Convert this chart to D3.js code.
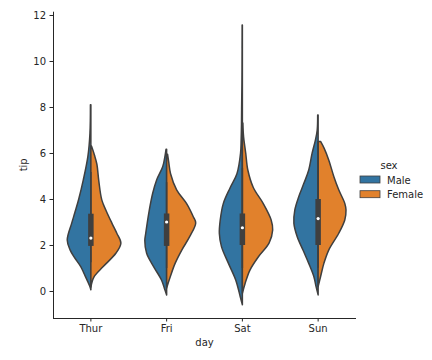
<!DOCTYPE html>
<html><head><meta charset="utf-8">
<script src="https://cdn.jsdelivr.net/npm/d3@7/dist/d3.min.js"></script>
<style>body{margin:0;background:#fff}svg{display:block}text{font-family:"DejaVu Sans",sans-serif;fill:#262626}</style>
</head><body><svg id="c" width="432" height="360"></svg>
<script>
const days = ["Thur","Fri","Sat","Sun"];
const sexes = ["Male","Female"];
const colors = ["#3274a1","#e1812c"];
const yTicks = [0,2,4,6,8,10,12];
// density profiles: [tip, relative half-width (% of max)]
const thurMale = [[0.05,0],[0.19,3],[0.77,23],[1.05,33],[1.49,56],[1.8,69],[2.22,78],[2.96,63],[3.4,53],[4.0,40],[4.83,25],[5.84,10],[6.87,3],[8.1,1.5]];
const thurFemale = [[0.17,0],[0.6,10],[1.05,40],[1.65,83],[2.08,99],[2.5,86],[2.96,69],[3.5,50],[3.96,36],[4.8,26],[5.5,20],[5.9,12],[6.3,2]];
const friMale = [[-0.17,0],[0.1,7],[0.48,17],[1.06,43],[1.64,66],[2.2,72],[2.5,69],[3.38,59],[4.25,46],[4.83,33],[5.4,13],[5.9,5],[6.16,2]];
const friFemale = [[0.13,0],[0.62,12],[1.2,28],[1.78,50],[2.36,76],[2.96,96],[3.23,88],[3.8,66],[4.4,33],[5.1,13],[5.6,7],[5.95,3]];
const satMale = [[-0.6,0],[-0.25,7],[0.48,22],[1.2,46],[1.93,69],[2.5,76],[3.09,73],[3.8,63],[4.5,40],[5.1,18],[6.0,6],[6.6,4],[7.2,3],[7.9,2.5],[9.0,1.5],[10.5,1],[11.56,0.8]];
const satFemale = [[-0.1,0],[0.33,9],[0.91,25],[1.49,53],[2.08,88],[2.65,100],[3.09,95],[3.8,69],[4.5,36],[5.26,18],[6.0,11],[6.7,4],[7.3,1.5]];
const sunMale = [[-0.17,0],[0.2,7],[0.62,14],[1.2,31],[1.78,50],[2.36,69],[2.94,80],[3.52,77],[4.1,64],[4.68,47],[5.26,31],[5.98,20],[6.56,9],[7.0,3],[7.65,1.5]];
const sunFemale = [[0.19,0],[0.62,8],[1.2,19],[1.78,35],[2.51,68],[3.09,88],[3.52,92],[3.81,88],[4.4,68],[4.97,52],[5.7,35],[6.2,20],[6.5,8]];
const profiles = [[thurMale,thurFemale],[friMale,friFemale],[satMale,satFemale],[sunMale,sunFemale]];
// box stats per day: [whiskerLow, q1, median, q3, whiskerHigh]
const boxStats = [[1.25,1.96,2.3,3.36,5.17],[1.0,1.96,3.0,3.37,4.73],[1.0,2.0,2.75,3.37,5.35],[1.01,2.0,3.15,4.0,6.5]];

const svg = d3.select("#c");
const L=53, R=356, T=11.7, B=318;
const x = d3.scaleBand().domain(days).range([L,R]).paddingInner(0).paddingOuter(0);
const y = d3.scaleLinear().domain([-1.174,12.143]).range([B,T]);
const w = d3.scaleLinear().domain([0,100]).range([0, x.step()*0.4]);
const cx = d => x(d)+x.bandwidth()/2;
const edge = "#3f3f3f";

days.forEach((day,i)=>{
  const c = cx(day);
  profiles[i].forEach((prof,j)=>{
    const sgn = j===0?-1:1;
    const area = d3.area().curve(d3.curveCatmullRom.alpha(0.5))
      .y(d=>y(d[0])).x0(c).x1(d=>c+sgn*w(d[1]));
    svg.append("path").attr("d",area(prof)).attr("fill",colors[j])
      .attr("stroke",edge).attr("stroke-width",1.5).attr("stroke-linejoin","round");
  });
  const b = boxStats[i];
  svg.append("line").attr("x1",c).attr("x2",c).attr("y1",y(b[0])).attr("y2",y(b[4]))
    .attr("stroke",edge).attr("stroke-width",1.5);
  svg.append("line").attr("x1",c).attr("x2",c).attr("y1",y(b[1])).attr("y2",y(b[3]))
    .attr("stroke",edge).attr("stroke-width",5.5);
  svg.append("circle").attr("cx",c).attr("cy",y(b[2])).attr("r",1.6).attr("fill","#fff");
});

// axes
const yAxis = d3.axisLeft(y).tickValues(yTicks).tickSize(3.5).tickPadding(3.5);
const gy = svg.append("g").attr("transform",`translate(${L},0)`).call(yAxis);
const xAxis = d3.axisBottom(x).tickSize(3.5).tickPadding(3.5);
const gx = svg.append("g").attr("transform",`translate(0,${B})`).call(xAxis);
[gy,gx].forEach(g=>{
  g.select(".domain").attr("stroke","#262626").attr("stroke-width",1);
  g.selectAll(".tick line").attr("stroke","#262626").attr("stroke-width",1);
  g.selectAll(".tick text").attr("font-size",10).attr("fill","#262626").attr("font-family","DejaVu Sans");
});
gy.select(".domain").attr("d",`M0.5,${B}V${T}`);
gx.select(".domain").attr("d",`M${L},0.5H${R}`);

svg.append("text").attr("x",(L+R)/2).attr("y",346).attr("text-anchor","middle").attr("font-size",10).text("day");
svg.append("text").attr("transform",`translate(27,${(T+B)/2}) rotate(-90)`).attr("text-anchor","middle").attr("font-size",10).text("tip");

// legend
svg.append("text").attr("x",389).attr("y",168.5).attr("text-anchor","middle").attr("font-size",10).text("sex");
sexes.forEach((s,j)=>{
  const yy = 176 + j*14.7;
  svg.append("rect").attr("x",360).attr("y",yy).attr("width",20).attr("height",7)
    .attr("fill",colors[j]).attr("stroke",edge).attr("stroke-width",0.8);
  svg.append("text").attr("x",387).attr("y",yy+7.5).attr("font-size",10).text(s);
});
</script></body></html>
